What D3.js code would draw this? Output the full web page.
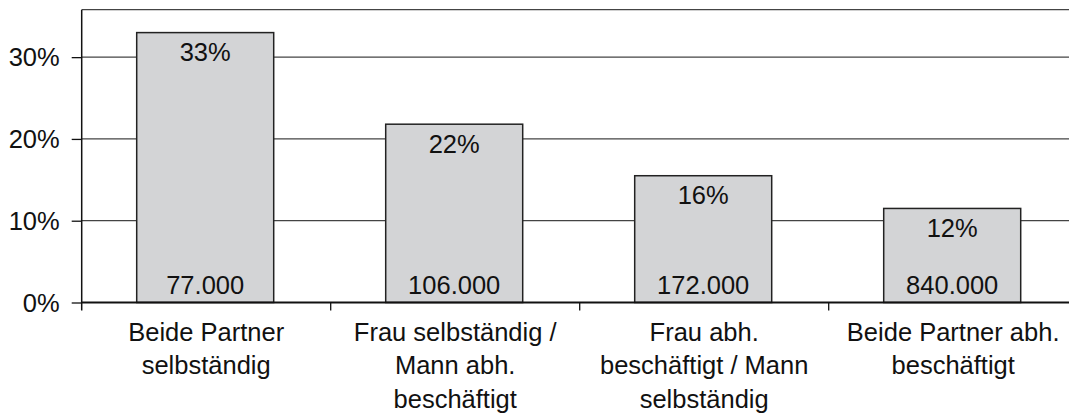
<!DOCTYPE html>
<html>
<head>
<meta charset="utf-8">
<script src="https://cdn.jsdelivr.net/npm/d3@7"></script>
<style>
  html, body { margin: 0; padding: 0; background: #fff; }
  svg { display: block; }
  text { font-family: "Liberation Sans", Arial, sans-serif; fill: #111; }
</style>
</head>
<body>
<svg id="chart" width="1069" height="415"></svg>
<script>
const categories = [
  "Beide Partner\nselbständig",
  "Frau selbständig /\nMann abh.\nbeschäftigt",
  "Frau abh.\nbeschäftigt / Mann\nselbständig",
  "Beide Partner abh.\nbeschäftigt"
];
const shares = [33, 21.8, 15.5, 11.5];
const shareLabels = ["33%", "22%", "16%", "12%"];
const countLabels = ["77.000", "106.000", "172.000", "840.000"];
const yTicks = [0, 10, 20, 30];
const yMax = 35.8;

(function () {
const svg = d3.select("#chart");
const mLeft = 81.7, mRight = 1077.7, mTop = 9.7, mBottom = 302.5;
const fs = 25.5;

const x = d3.scaleBand().domain(categories).range([mLeft, mRight]).paddingInner(0).paddingOuter(0);
const y = d3.scaleLinear().domain([0, yMax]).range([mBottom, mTop]);
const barW = 137;

// gridlines
svg.append("g").selectAll("line").data(yTicks.filter(d => d > 0)).join("line")
  .attr("x1", mLeft).attr("x2", mRight)
  .attr("y1", d => y(d)).attr("y2", d => y(d))
  .attr("stroke", "#444").attr("stroke-width", 1.3);

// top border
svg.append("line").attr("x1", mLeft).attr("x2", mRight)
  .attr("y1", y(yMax)).attr("y2", y(yMax))
  .attr("stroke", "#444").attr("stroke-width", 1.3);

// bars
svg.append("g").selectAll("rect").data(categories).join("rect")
  .attr("x", d => x(d) + x.bandwidth() / 2 - barW / 2 - 1)
  .attr("width", barW)
  .attr("y", (d, i) => y(shares[i]))
  .attr("height", (d, i) => y(0) - y(shares[i]))
  .attr("fill", "#d3d4d6")
  .attr("stroke", "#222")
  .attr("stroke-width", 1.5);

// share labels
svg.append("g").selectAll("text").data(categories).join("text")
  .attr("x", d => x(d) + x.bandwidth() / 2 - 1)
  .attr("y", (d, i) => y(shares[i]) + 28.5)
  .attr("text-anchor", "middle")
  .attr("font-size", fs)
  .text((d, i) => shareLabels[i]);

// count labels
svg.append("g").selectAll("text").data(categories).join("text")
  .attr("x", d => x(d) + x.bandwidth() / 2 - 1)
  .attr("y", y(0) - 9)
  .attr("text-anchor", "middle")
  .attr("font-size", fs)
  .text((d, i) => countLabels[i]);

// y axis
const yAxis = d3.axisLeft(y).tickValues(yTicks).tickFormat(d => d + "%").tickSize(10).tickPadding(12);
const gy = svg.append("g").attr("transform", `translate(${mLeft},0)`).call(yAxis);
gy.select(".domain").remove();
gy.selectAll(".tick line").attr("stroke", "#111").attr("stroke-width", 1.3);
gy.selectAll(".tick text").attr("font-size", fs).attr("font-family", "Liberation Sans, Arial, sans-serif").attr("fill", "#111").attr("dy", "0.34em");
svg.append("line").attr("x1", mLeft).attr("x2", mLeft).attr("y1", y(yMax)).attr("y2", mBottom + 8)
  .attr("stroke", "#111").attr("stroke-width", 1.5);

// x axis line
svg.append("line").attr("x1", mLeft).attr("x2", mRight).attr("y1", mBottom).attr("y2", mBottom)
  .attr("stroke", "#111").attr("stroke-width", 2.2);

// category separators (ticks)
svg.append("g").selectAll("line").data(categories.slice(1)).join("line")
  .attr("x1", d => x(d)).attr("x2", d => x(d))
  .attr("y1", mBottom).attr("y2", mBottom + 8)
  .attr("stroke", "#111").attr("stroke-width", 1.3);

// category labels
const cat = svg.append("g").selectAll("text").data(categories).join("text")
  .attr("x", d => x(d) + x.bandwidth() / 2)
  .attr("y", 341)
  .attr("text-anchor", "middle")
  .attr("font-size", fs);
cat.each(function(d) {
  const t = d3.select(this);
  d.split("\n").forEach((line, i) => {
    t.append("tspan").attr("x", x(d) + x.bandwidth() / 2).attr("dy", i === 0 ? 0 : 33.3).text(line);
  });
});
})();
</script>
</body>
</html>
